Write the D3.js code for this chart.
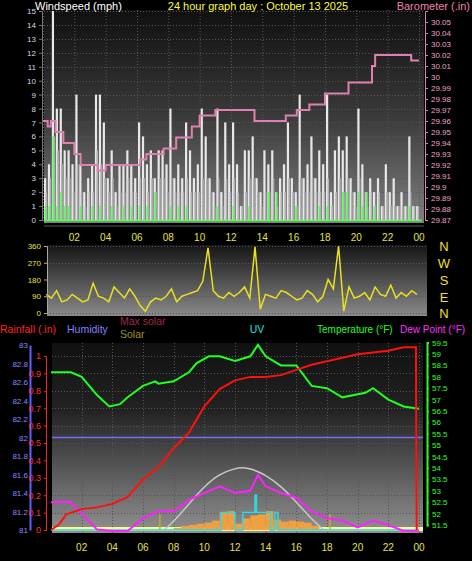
<!DOCTYPE html><html><head><meta charset="utf-8">
<script src="https://cdn.jsdelivr.net/npm/d3@7"></script>
<style>body{margin:0;background:#000}svg{display:block;font-family:"Liberation Sans",Arial,sans-serif}</style></head><body>
<svg id="c" width="472" height="561"></svg>
<script>
const hourTicks=["02","04","06","08","10","12","14","16","18","20","22","00"];
// wind (15-min)
const windGust=[3,4,15,8, 8,5,5,4, 9,4,2,3, 4,9,9,7, 3,5,2,4, 4,5,4,3, 7,6,4,5, 3,5,5,4, 8,3,4,3, 7,5,3,4, 8,6,3,2, 8,2,7,4, 7,4,1,5, 5,6,3,2, 5,4,5,2, 3,4,7,3, 2,9,3,4, 6,3,5,4, 9,2,5,6, 5,6,3,2, 8,4,2,3, 2,3,1,4, 2,3,1,2, 1,6,1,1];
const windAvg=[2,3,6,5, 4,3,3,2, 4,2,1,2, 2,5,4,3, 2,3,1,2, 2,3,2,2, 3,3,2,3, 2,3,3,2, 3,2,2,2, 3,2,2,2, 3,3,2,1, 3,1,3,2, 3,2,1,2, 3,3,2,1, 2,2,3,1, 2,2,3,2, 1,3,2,2, 3,2,2,2, 3,1,2,3, 2,3,2,1, 3,2,1,2, 1,2,1,2, 1,1,1,1, 1,2,1,1];
const windSpeed=[1,1,6,1, 2,1,1,0, 0,1,0,0, 1,0,1,0, 0,1,0,0, 1,0,1,0, 1,0,1,0, 2,0,0,0, 1,0,1,0, 1,0,0,0, 0,0,0,0, 1,0,0,0, 1,0,0,0, 1,0,0,0, 0,2,0,2, 0,0,0,0, 1,0,0,0, 0,0,1,0, 1,0,0,0, 2,2,0,0, 2,1,2,0, 1,0,0,0, 0,0,0,0, 0,1,0,0];
const baroT=[0,0.3,0.5,0.8,1.3,2,2.4,3.5,4,5,6.2,6.6,7.7,8.5,9.5,10,11,13.5,15.5,16.2,17,18,19.5,21,21.2,23.5,24];
const baroV=[29.96,29.955,29.96,29.95,29.94,29.93,29.92,29.915,29.92,29.92,29.925,29.93,29.935,29.945,29.955,29.965,29.97,29.96,29.965,29.97,29.975,29.985,29.995,30.01,30.02,30.015,30.015];
// wind direction (20-min)
const windDir=[100,80,120,60,70,100,80,60,70,160,90,80,60,140,110,80,130,90,40,10,60,80,70,90,130,60,90,100,110,120,170,350,120,90,80,110,90,110,140,80,355,20,100,90,80,120,110,90,70,80,120,100,60,90,180,130,360,10,140,80,90,110,70,140,100,90,150,80,110,90,120,100];
const tempT=[0,1.3,2,3,3.8,4.5,5,6,6.8,7,8,9,9.5,10.3,11,12,13,13.5,14,15,16,17,18,19,20.5,21,22,23,24];
const tempV=[58.2,58.2,58,57.2,56.7,56.8,57.1,57.6,57.8,57.7,57.8,58.2,58.6,58.9,58.9,58.7,58.9,59.4,58.9,58.5,58.5,57.6,57.5,57.1,57.3,57.5,57.0,56.7,56.6];
const dewT=[0,1.3,2,3,4,5,6,7,8,9,10,11,12,13,13.5,14,15,16,17,18,19,20,21,22,23,24];
const dewV=[52.5,52.5,52.0,51.3,51.0,51.2,51.8,52.1,52.1,52.6,52.9,53.2,52.9,53.0,53.7,53.2,52.9,52.7,52.1,51.8,51.7,51.4,51.7,51.5,51.0,51.0];
const rainT=[0,0.5,1,2,3,4,5,6,7,8,9,10,11,12,13,14,15,16,17,18,19,20,21,22,23,23.8,23.85];
const rainV=[0,0.03,0.09,0.12,0.13,0.15,0.19,0.29,0.36,0.47,0.56,0.71,0.81,0.86,0.88,0.88,0.89,0.92,0.95,0.97,0.99,1.01,1.02,1.03,1.05,1.05,0];
const humidity=[82,82];
const maxSolarT=[7.4,8,9,10,11,12,12.5,13,14,15,16,17,17.8];
const maxSolarV=[0,80,250,420,540,590,600,590,530,420,270,100,0];
const solarT=[8,8.5,9,9.5,10,10.5,11,11.5,12,12.5,13,13.5,14,14.5,15,15.5,16,16.5,17,17.5];
const solarV=[20,40,50,60,70,90,170,180,60,110,140,150,180,100,80,90,80,70,40,10];
const uvT=[0,11.1,12,12.5,13.2,13.3,13.4,14,14.3,14.6,14.8,24];
const uvV=[0,1,0,1,1,2,1,1,0,1,0,0];
const sunMarks=[7.1,18.2];

const svg=d3.select("#c");
const defs=svg.append("defs");
function grad(id,stops){const g=defs.append("linearGradient").attr("id",id).attr("x1",0).attr("x2",0).attr("y1",0).attr("y2",1);stops.forEach(s=>g.append("stop").attr("offset",s[0]).attr("stop-color",s[1]));}
grad("g1",[[0,"#101010"],[0.5,"#3a3a3a"],[1,"#808080"]]);
grad("g2",[[0,"#151515"],[1,"#8a8a8a"]]);
grad("g3",[[0,"#111"],[0.35,"#222"],[1,"#909090"]]);
function grid(x0,x1,y0,y1,xs,ys){const g=svg.append("g").attr("stroke","#555").attr("stroke-dasharray","1,2").attr("stroke-width",1);
 xs.forEach(x=>g.append("line").attr("x1",x).attr("x2",x).attr("y1",y0).attr("y2",y1));
 ys.forEach(y=>g.append("line").attr("x1",x0).attr("x2",x1).attr("y1",y).attr("y2",y));}
const txt=(x,y,t,c,s,a)=>svg.append("text").attr("x",x).attr("y",y).attr("fill",c).attr("font-size",s||11).attr("text-anchor",a||"start").text(t);
// ---------- TOP PANEL
const xT=d3.scaleLinear([0,24],[43,419]);
const yW=d3.scaleLinear([0,15],[220,11]);
const yB=d3.scaleLinear([29.87,30.06],[220,11]);
svg.append("rect").attr("x",44).attr("y",10).attr("width",380).attr("height",213).attr("fill","url(#g1)");
grid(44,424,10,223,d3.range(0,25,2).map(h=>xT(h)+0.5),d3.range(0,16).map(v=>Math.round(yW(v))+0.5));
const step=0.25;
svg.append("g").selectAll("rect").data(windGust).join("rect").attr("x",(d,i)=>xT(i*step)+1).attr("width",2.2).attr("y",d=>yW(d)).attr("height",d=>yW(0)-yW(d)).attr("fill","#e8e8e8");
svg.append("g").selectAll("rect").data(windAvg).join("rect").attr("x",(d,i)=>xT(i*step)+2.5).attr("width",1.6).attr("y",d=>yW(d)).attr("height",d=>yW(0)-yW(d)).attr("fill","#b0b0b0");
svg.append("g").selectAll("rect").data(windSpeed).join("rect").attr("x",(d,i)=>xT(i*step)+1.5).attr("width",1.5).attr("y",d=>yW(d)).attr("height",d=>yW(0)-yW(d)+1).attr("fill","#55ff55");
svg.append("line").attr("x1",44).attr("x2",422).attr("y1",yW(0)+0.5).attr("y2",yW(0)+0.5).attr("stroke","#55ff55").attr("stroke-width",1.5);
svg.append("path").datum(baroT.map((t,i)=>[t,baroV[i]])).attr("d",d3.line().x(d=>xT(d[0])).y(d=>yB(d[1])).curve(d3.curveStepAfter)).attr("fill","none").attr("stroke","#e080b0").attr("stroke-width",2);
svg.append("g").attr("transform","translate(42,0)").call(d3.axisLeft(yW).tickValues(d3.range(0,16)).tickSize(3)).call(g=>{g.select(".domain").attr("stroke","#777");g.selectAll("line").attr("stroke","#777");g.selectAll("text").attr("fill","#cde").attr("font-size",8);});
svg.append("g").attr("transform","translate(425,0)").call(d3.axisRight(yB).tickValues(d3.range(29.87,30.055,0.01)).tickFormat(d=>+d.toFixed(2)+"").tickSize(3)).call(g=>{g.select(".domain").attr("stroke","#e080b0");g.selectAll("line").attr("stroke","#e080b0");g.selectAll("text").attr("fill","#f0a0c8").attr("font-size",8);});
svg.append("line").attr("x1",44).attr("x2",424).attr("y1",226).attr("y2",226).attr("stroke","#555");
hourTicks.forEach((h,i)=>txt(xT((i+1)*2),241,h,"#e8e040",10,"middle"));
txt(35,10,"Windspeed (mph)","#fff",11);
txt(258,10,"24 hour graph day : October 13 2025","#ffff30",11,"middle");
txt(470,10,"Barometer (.in)","#f080b0",11,"end");
// ---------- DIRECTION PANEL
const yD=d3.scaleLinear([0,360],[313,246]);
svg.append("rect").attr("x",47).attr("y",245).attr("width",380).attr("height",71).attr("fill","url(#g2)");
grid(47,427,245,316,[],[0,90,180,270,360].map(v=>Math.round(yD(v))+0.5));
svg.append("path").datum(windDir).attr("d",d3.line().x((d,i)=>xT(i/3+0.2)).y(d=>yD(d))).attr("fill","none").attr("stroke","#e8e020").attr("stroke-width",1.5);
svg.append("g").attr("transform","translate(47,0)").call(d3.axisLeft(yD).tickValues([0,90,180,270,360]).tickSize(3)).call(g=>{g.select(".domain").attr("stroke","#aa9");g.selectAll("line").attr("stroke","#aa9");g.selectAll("text").attr("fill","#e8e040").attr("font-size",8);});
["N","W","S","E","N"].forEach((c,i)=>txt(444,[251,268,285,302,318][i],c,"#f0e020",13,"middle"));
// ---------- BOTTOM PANEL
const xB=d3.scaleLinear([0,24],[51,419]);
const yR=d3.scaleLinear([0,1],[530,356]);
const yH=d3.scaleLinear([81,83],[530,345]);
const yTp=d3.scaleLinear([51.5,59.5],[525,342.6]);
const yS=d3.scaleLinear([0,1667],[530,356]);
const yU=d3.scaleLinear([0,10],[530,356]);
txt(0,333,"Rainfall (.in)","#ff2020",10.5);
txt(67,333,"Humidity","#8080ff",10.5);
txt(120,325,"Max solar","#a02848",10.5);
txt(120,338,"Solar","#a09020",10.5);
txt(257,333,"UV","#20e0e0",10.5,"middle");
txt(317,333,"Temperature (°F)","#20ff20",10);
txt(400,333,"Dew Point (°F)","#ff30ff",10);
svg.append("rect").attr("x",52).attr("y",343).attr("width",371).attr("height",190).attr("fill","url(#g3)");
grid(52,423,343,533,d3.range(2,25,2).map(h=>Math.round(xB(h))+0.5),d3.range(0,1.01,0.1).map(v=>Math.round(yR(v))+0.5));
svg.append("rect").attr("x",52).attr("y",527).attr("width",371).attr("height",4).attr("fill","#fff890");
svg.append("g").selectAll("rect").data(solarT).join("rect").attr("x",(d,i)=>xB(d)).attr("width",xB(0.5)-xB(0)).attr("y",(d,i)=>yS(solarV[i])).attr("height",(d,i)=>yS(0)-yS(solarV[i])).attr("fill","#f0a040");
svg.append("path").datum(maxSolarT.map((t,i)=>[t,maxSolarV[i]])).attr("d",d3.line().x(d=>xB(d[0])).y(d=>yS(d[1])).curve(d3.curveBasis)).attr("fill","none").attr("stroke","#c8c8c8").attr("stroke-width",1.5);
sunMarks.forEach(t=>svg.append("line").attr("x1",xB(t)).attr("x2",xB(t)).attr("y1",yR(0)).attr("y2",yR(0.09)).attr("stroke","#c0b020").attr("stroke-width",1.5));
svg.append("path").datum(uvT.map((t,i)=>[t,uvV[i]])).attr("d",d3.line().x(d=>xB(d[0])).y(d=>yU(d[1])).curve(d3.curveStepAfter)).attr("fill","none").attr("stroke","#30d8e0").attr("stroke-width",1.5);
svg.append("line").attr("x1",52).attr("x2",423).attr("y1",yH(humidity[0])).attr("y2",yH(humidity[1])).attr("stroke","#7070ff").attr("stroke-width",1.5);
const lineT=(T,V,sc,c)=>svg.append("path").datum(T.map((t,i)=>[t,V[i]])).attr("d",d3.line().x(d=>xB(d[0])).y(d=>Math.min(531,sc(d[1])))).attr("fill","none").attr("stroke",c).attr("stroke-width",2);
lineT(tempT,tempV,yTp,"#20ff20");
lineT(dewT,dewV,yTp,"#ff20ff");
svg.append("path").datum(rainT.map((t,i)=>[t,rainV[i]])).attr("d",d3.line().x(d=>xB(d[0])).y(d=>yR(d[1]))).attr("fill","none").attr("stroke","#ff1010").attr("stroke-width",2);
svg.append("g").attr("transform","translate(30,0)").call(d3.axisRight(yH).tickValues(d3.range(81,83.01,0.2)).tickFormat(d=>(+d.toFixed(1))+"").tickSize(0)).call(g=>{g.select(".domain").attr("stroke","#6060ff").attr("stroke-width",2);g.selectAll("text").attr("fill","#8888ff").attr("font-size",8).attr("text-anchor","end").attr("x",-2);});
svg.append("g").attr("transform","translate(46,0)").call(d3.axisLeft(yR).tickValues(d3.range(0,1.01,0.1)).tickFormat(d=>+d.toFixed(1)+"").tickSize(2)).call(g=>{g.select(".domain").attr("stroke","#ff2020");g.selectAll("line").attr("stroke","#ff2020");g.selectAll("text").attr("fill","#ff3030").attr("font-size",9);});
svg.append("g").attr("transform","translate(427,0)").call(d3.axisRight(yTp).tickValues(d3.range(51.5,59.51,0.5)).tickFormat(d=>+d.toFixed(1)+"").tickSize(2)).call(g=>{g.select(".domain").attr("stroke","#20ff20").attr("stroke-width",2);g.selectAll("line").attr("stroke","#20ff20");g.selectAll("text").attr("fill","#30ff30").attr("font-size",8);});
hourTicks.forEach((h,i)=>txt(xB((i+1)*2),551,h,"#e8e040",10,"middle"));
</script></body></html>
